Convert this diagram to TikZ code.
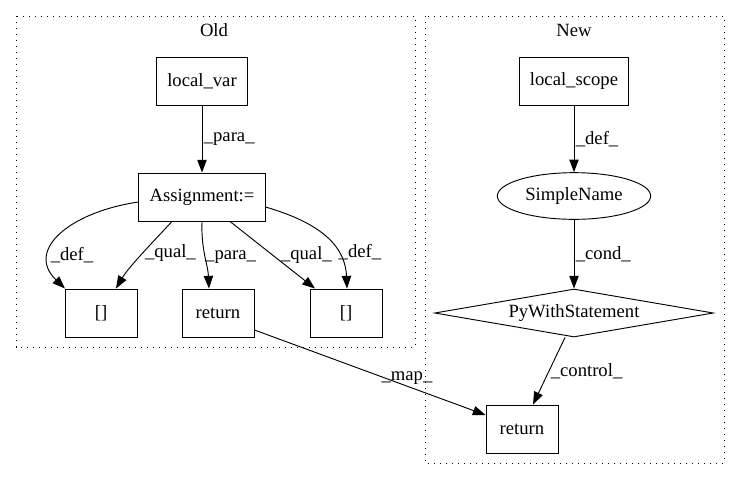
\documentclass[tikz,border=0pt]{standalone}
\usepackage{fontspec}
\setmainfont{Liberation Serif}
\usepackage{tikz}
\usetikzlibrary{shapes,arrows.meta}
\tikzstyle{box}=[rectangle,draw=black,line width=0.7pt,inner xsep=8pt,inner ysep=0pt,
  minimum width=54pt,minimum height=36pt,font=\fontsize{14pt}{16pt}\selectfont]
\tikzstyle{ell}=[ellipse,draw=black,line width=0.7pt,inner sep=0pt,
  minimum width=115pt,minimum height=35pt,font=\fontsize{14pt}{16pt}\selectfont]
\tikzstyle{dia}=[diamond,draw=black,line width=0.7pt,inner sep=0pt,aspect=5.8,
  minimum width=209pt,minimum height=36pt,font=\fontsize{14pt}{16pt}\selectfont]
\tikzstyle{cluster}=[draw=black,line width=0.7pt,dash pattern=on 1pt off 3.5pt]
\tikzstyle{title}=[font=\fontsize{14pt}{16pt}\selectfont]
\tikzstyle{flow}=[-{Triangle[length=9.5pt,width=7pt]},line width=0.7pt]
\tikzstyle{lbl}=[font=\fontsize{14pt}{16pt}\selectfont,inner sep=1pt]

\begin{document}
\begin{tikzpicture}[x=0.75pt,y=-0.75pt]
    \useasboundingbox (0,0) rectangle (740,480);
    % clusters
    \draw [style=cluster] (16,16) rectangle (415,347);
    \draw [style=cluster] (425,16) rectangle (724,463);
    \node [style=title] (oldtitle) at (214,30) {Old};
    \node [style=title] (newtitle) at (574,30) {New};
    % old
    \node [style=box] (localvar) at (202,81) {local\_var};
    \node [style=box] (assign) at (202,197) {Assignment:=};
    \node [style=box] (brackl) at (101,313) {[]};
    \node [style=box] (retold) at (218,313) {return};
    \node [style=box] (brackr) at (346,313) {[]};
    % new
    \node [style=box] (localscope) at (574,81) {local\_scope};
    \node [style=ell] (simplename) at (574,196) {SimpleName};
    \node [style=dia] (pywith) at (574,313) {PyWithStatement};
    \node [style=box] (retnew) at (522,429) {return};
    \draw [style=flow] (localvar) to node[lbl,right] {\_para\_} (assign);
    \draw [style=flow] ([yshift=-3.75pt]assign.west) .. controls (70,212) and (25,250) ..
      node[lbl,pos=.7,right,inner sep=0pt] {\_def\_} ([xshift=-27pt]brackl.north);
    \draw [style=flow] ([xshift=-22.5pt]assign.south) .. controls (150,245) and (128,268) ..
      node[lbl,pos=.45,right] {\_qual\_} ([xshift=11.25pt]brackl.north);
    \draw [style=flow] (assign.south) .. controls (201,250) and (208,265) ..
      node[lbl,pos=.5,right,inner sep=0pt] {\_para\_} ([xshift=-6.75pt]retold.north);
    \draw [style=flow] ([xshift=21pt]assign.south) to
      node[lbl,pos=.5,right=5pt] {\_qual\_} ([xshift=-23.25pt]brackr.north);
    \draw [style=flow] ([yshift=-7.5pt]assign.east) .. controls (310,220) and (345,240) ..
      node[lbl,pos=.7,right] {\_def\_} ([xshift=0.75pt]brackr.north);
    \draw [style=flow] ([yshift=-12.75pt]retold.east) to
      node[lbl,pos=.66,above] {\_map\_} ([yshift=10.5pt]retnew.west);
    \draw [style=flow] (localscope) to node[lbl,right] {\_def\_} (simplename);
    \draw [style=flow] (simplename) to node[lbl,right] {\_cond\_} (pywith);
    \draw [style=flow] ([xshift=-6.75pt]pywith.south) to
      node[lbl,pos=.5,right] {\_control\_} ([xshift=8.25pt]retnew.north);
  \end{tikzpicture}
\end{document}
